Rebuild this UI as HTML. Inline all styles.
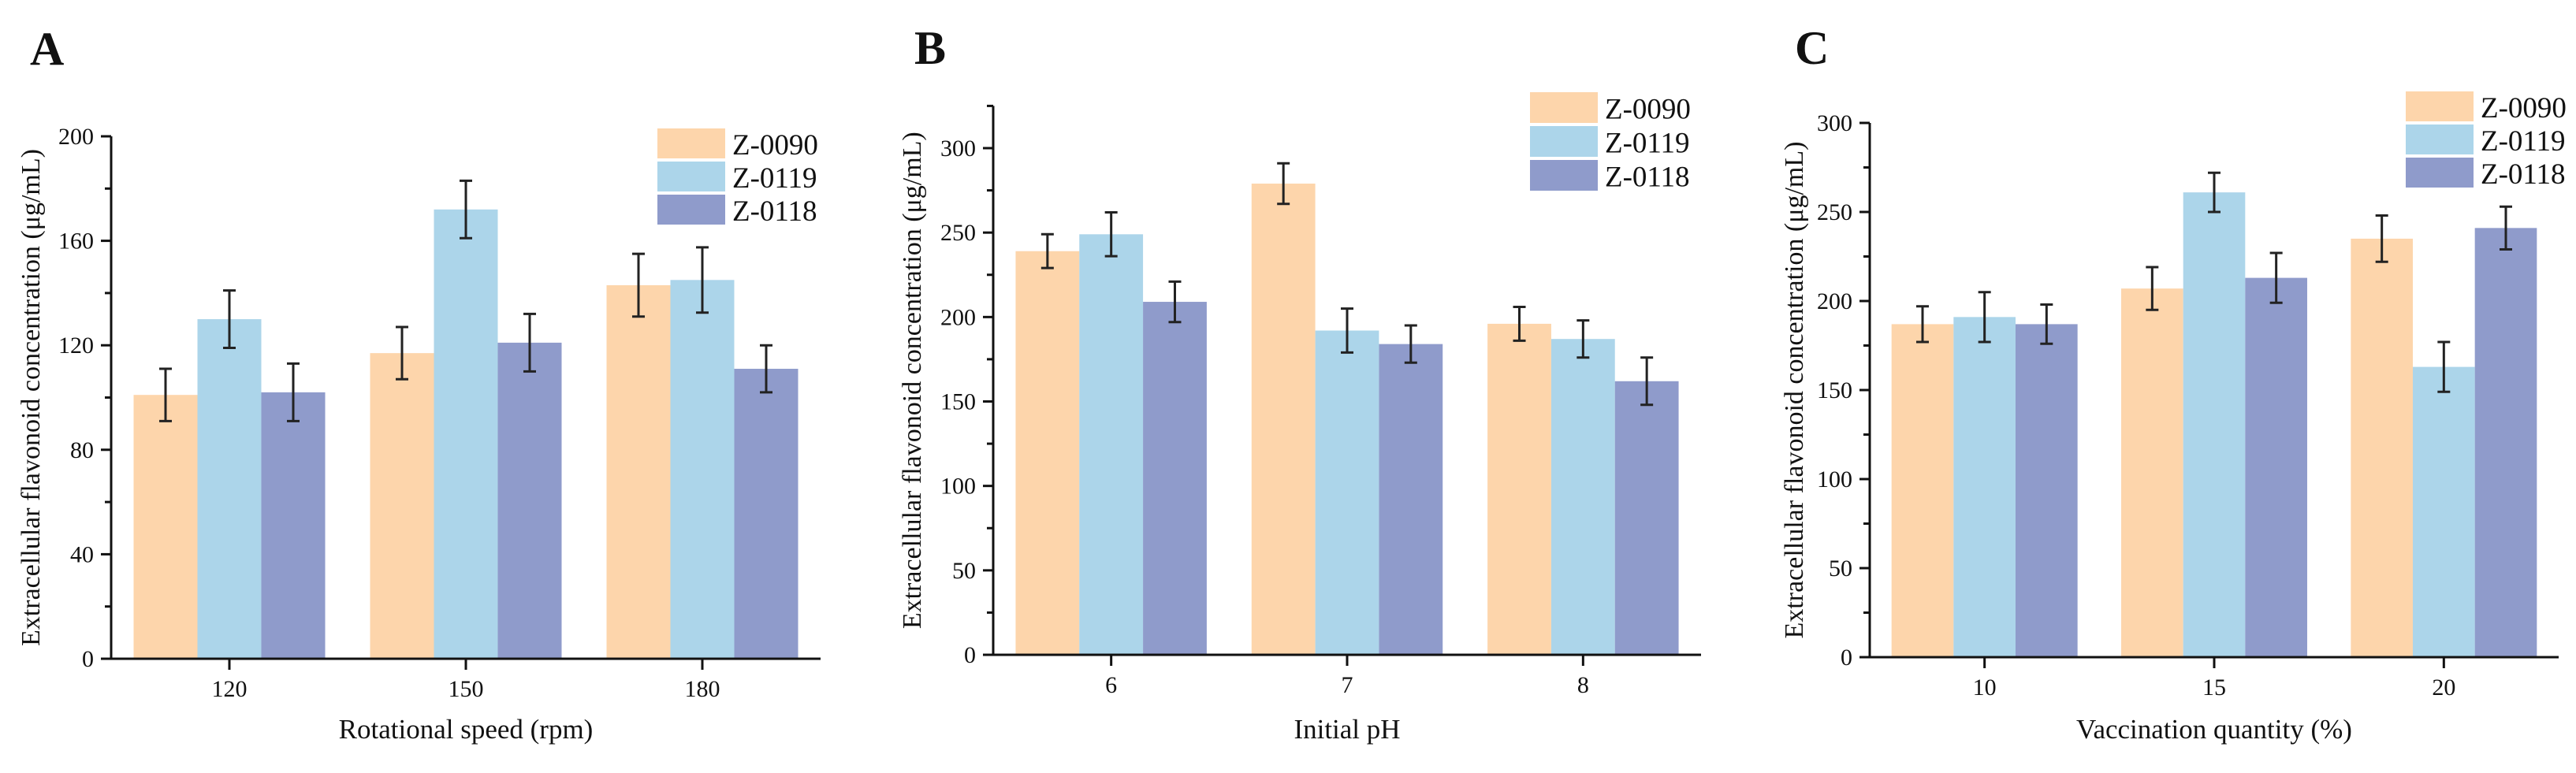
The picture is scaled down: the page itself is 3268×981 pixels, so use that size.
<!DOCTYPE html>
<html><head><meta charset="utf-8">
<style>
html,body{margin:0;padding:0;background:#fff;}
svg{display:block;}
text{font-family:"Liberation Serif",serif;fill:#111;}
</style></head>
<body>
<svg id="fig" width="3268" height="981" viewBox="0 0 3268 981" xmlns="http://www.w3.org/2000/svg"></svg>
<script>
// Panel A data
const catsA = ["120","150","180"];
const z0090A = [101,117,143];
const z0119A = [130,172,145];
const z0118A = [102,121,111];
const errZ0090A = [10,10,12];
const errZ0119A = [11,11,12.5];
const errZ0118A = [11,11,9];
const ticksA = [0,40,80,120,160,200];
// Panel B data
const catsB = ["6","7","8"];
const z0090B = [239,279,196];
const z0119B = [249,192,187];
const z0118B = [209,184,162];
const errZ0090B = [10,12,10];
const errZ0119B = [13,13,11];
const errZ0118B = [12,11,14];
const ticksB = [0,50,100,150,200,250,300];
// Panel C data
const catsC = ["10","15","20"];
const z0090C = [187,207,235];
const z0119C = [191,261,163];
const z0118C = [187,213,241];
const errZ0090C = [10,12,13];
const errZ0119C = [14,11,14];
const errZ0118C = [11,14,12];
const ticksC = [0,50,100,150,200,250,300];
const seriesNames = ["Z-0090","Z-0119","Z-0118"];

const NS="http://www.w3.org/2000/svg";
const svg=document.getElementById('fig');
const colors=["#fdd5ab","#acd5ea","#8f9bcb"];
function mk(tag,attrs,parent){const e=document.createElementNS(NS,tag);for(const k in attrs)e.setAttribute(k,attrs[k]);(parent||svg).appendChild(e);return e;}

function panel(cfg){
  const g=mk('g',{});
  
  
  const n=cfg.cats.length;
  const step=(cfg.x1-cfg.x0)/n;
  const xc=i=>cfg.x0+step*(i+0.5);
  const y=v=>cfg.y0-(v/cfg.vmax)*(cfg.y0-cfg.yTop);
  const bw=step*0.27;
  const series=[cfg.s0,cfg.s1,cfg.s2];
  const errs=[cfg.e0,cfg.e1,cfg.e2];
  for(let s=0;s<3;s++){
    for(let i=0;i<n;i++){
      const bx=xc(i)+(s-1.5)*bw;
      const r=mk('rect',{x:bx,y:y(series[s][i]),width:bw,height:cfg.y0-y(series[s][i]),fill:colors[s]},g);
      
      
    }
  }
  for(let s=0;s<3;s++){
    for(let i=0;i<n;i++){
      const cx=xc(i)+(s-1)*bw;
      const hi=y(series[s][i]+errs[s][i]), lo=y(series[s][i]-errs[s][i]);
      const eb=mk('path',{d:`M${cx},${hi}V${lo}M${cx-8},${hi}H${cx+8}M${cx-8},${lo}H${cx+8}`,stroke:"#222","stroke-width":3,fill:"none"},g);
      
      
    }
  }
  const ax=mk('path',{d:`M${cfg.x0},${y(cfg.axisMax)}V${cfg.y0}H${cfg.x1}`,stroke:"#111","stroke-width":3,fill:"none"},g);
  
  
  const tstep=cfg.ticks[1]-cfg.ticks[0];
  for(let v=0; v<=cfg.axisMax+0.01; v+=tstep/2){
    const major=Math.abs(v/tstep-Math.round(v/tstep))<0.01;
    mk('line',{x1:cfg.x0-(major?13:8),x2:cfg.x0,y1:y(v),y2:y(v),stroke:"#111","stroke-width":3},g);
  }
  cfg.ticks.forEach(v=>{
    const t=mk('text',{x:cfg.x0-22,y:y(v)+10,"text-anchor":"end","font-size":30},g);
    t.textContent=v;
    
    
  });
  cfg.cats.forEach((c,i)=>{
    mk('line',{x1:xc(i),x2:xc(i),y1:cfg.y0,y2:cfg.y0+14,stroke:"#111","stroke-width":3},g);
    const t=mk('text',{x:xc(i),y:cfg.y0+48,"text-anchor":"middle","font-size":30},g);
    t.textContent=c;
    
    
  });
  const xt=mk('text',{x:(cfg.x0+cfg.x1)/2,y:937,"text-anchor":"middle","font-size":35},g);
  xt.textContent=cfg.xtitle;
  
  
  const ymid=(cfg.y0+y(cfg.axisMax))/2;
  const yt=mk('text',{x:0,y:0,"text-anchor":"middle","font-size":34,transform:`translate(${cfg.ytx},${ymid}) rotate(-90)`},g);
  yt.textContent="Extracellular flavonoid concentration (\u03bcg/mL)";
  
  
  const pt=mk('text',{x:cfg.tx,y:cfg.ty,"font-size":60,"font-weight":"bold"},g);
  pt.textContent=cfg.id;
  
  
  for(let s=0;s<3;s++){
    const top=cfg.ly+s*cfg.lstep;
    const lr=mk('rect',{x:cfg.lx,y:top,width:86,height:cfg.lstep-4,fill:colors[s]},g);
    
    
    const lt=mk('text',{x:cfg.lx+95,y:top+cfg.lstep/2+12,"font-size":37},g);
    lt.textContent=seriesNames[s];
    
    
  }
}

panel({id:"A",cats:catsA,s0:z0090A,s1:z0119A,s2:z0118A,e0:errZ0090A,e1:errZ0119A,e2:errZ0118A,ticks:ticksA,
  x0:141,x1:1041,y0:836,yTop:173,vmax:200,axisMax:200,xtitle:"Rotational speed (rpm)",ytx:50,tx:38,ty:82,lx:834,ly:163,lstep:42});
panel({id:"B",cats:catsB,s0:z0090B,s1:z0119B,s2:z0118B,e0:errZ0090B,e1:errZ0119B,e2:errZ0118B,ticks:ticksB,
  x0:1260,x1:2158,y0:831,yTop:188,vmax:300,axisMax:325,xtitle:"Initial pH",ytx:1168,tx:1160,ty:81,lx:1941,ly:117,lstep:43});
panel({id:"C",cats:catsC,s0:z0090C,s1:z0119C,s2:z0118C,e0:errZ0090C,e1:errZ0119C,e2:errZ0118C,ticks:ticksC,
  x0:2372,x1:3246,y0:834,yTop:156,vmax:300,axisMax:300,xtitle:"Vaccination quantity (%)",ytx:2287,tx:2277,ty:81,lx:3052,ly:116,lstep:42});
</script>
</body></html>
